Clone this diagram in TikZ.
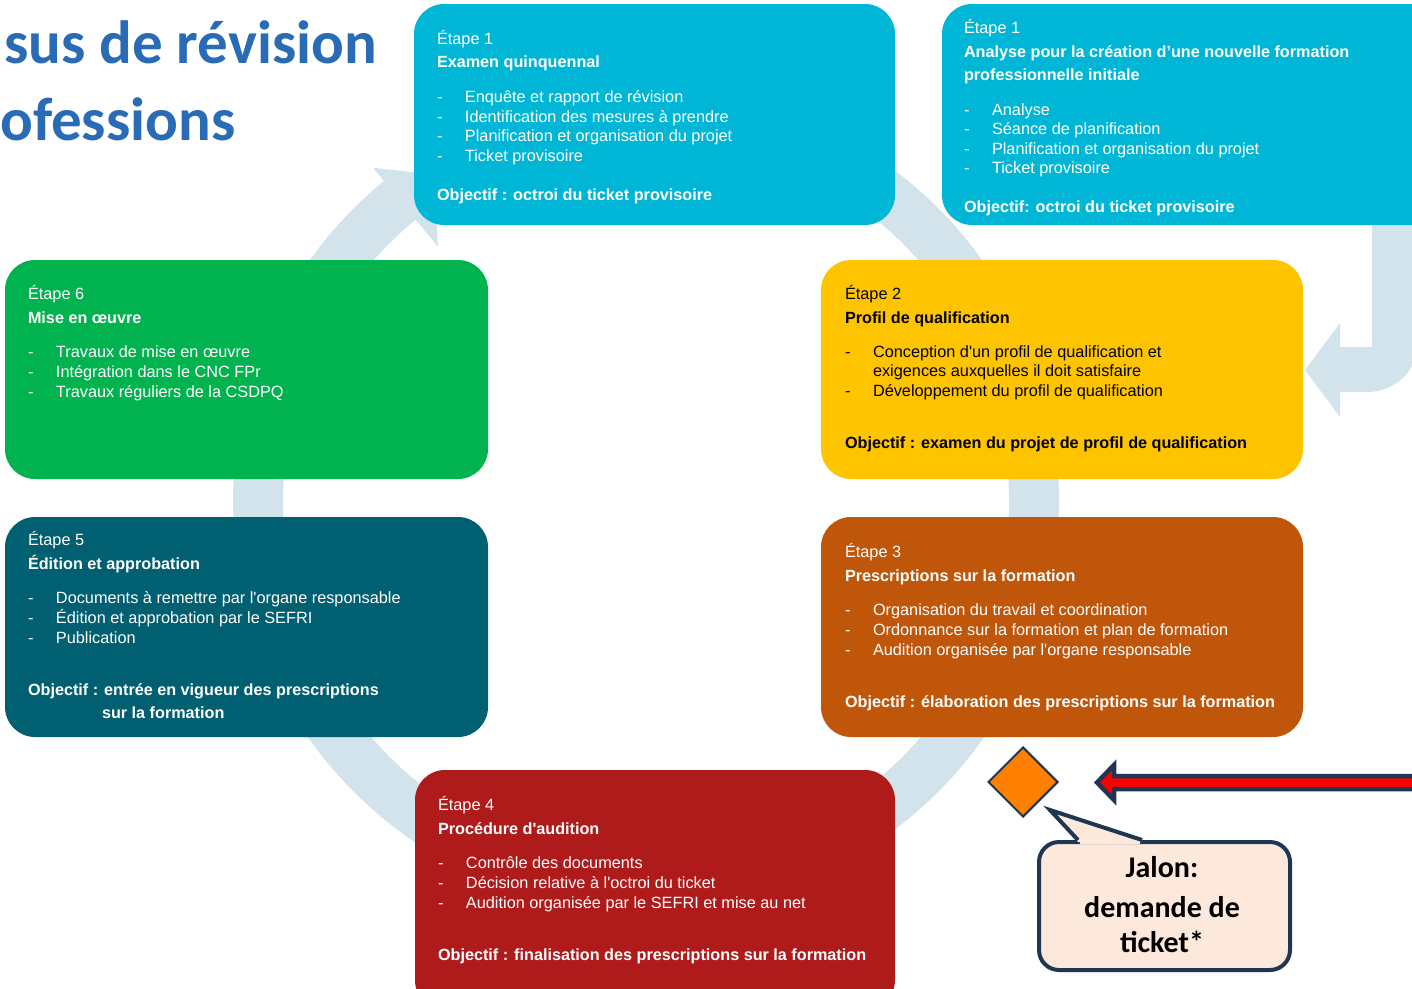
\documentclass[tikz,border=0pt]{standalone}
\usepackage{fontspec}
\setmainfont{Liberation Sans}[Ligatures=TeXOff]
\newfontfamily\calibri{Carlito}
\usetikzlibrary{shapes.geometric}

\definecolor{ringblue}{HTML}{D2E3EC}
\definecolor{stepcyan}{HTML}{00B6D7}
\definecolor{stepgreen}{HTML}{00B34F}
\definecolor{stepyellow}{HTML}{FFC400}
\definecolor{stepteal}{HTML}{005F71}
\definecolor{steporange}{HTML}{C0560A}
\definecolor{stepred}{HTML}{AF1B1B}
\definecolor{titleblue}{HTML}{2A6BB5}
\definecolor{navy}{HTML}{1E3553}
\definecolor{peach}{HTML}{FCE9DB}
\definecolor{jalonorange}{HTML}{FF7F00}
\definecolor{arrowred}{HTML}{FF0000}

\tikzset{
  stepbox/.style={anchor=north west, rounded corners=30pt, inner sep=0pt, outer sep=0pt},
  ln/.style={anchor=base west, inner sep=0pt, outer sep=0pt, text=white,
             font=\fontsize{16.3}{19}\selectfont},
  hd/.style={ln, font=\bfseries\fontsize{16.2}{19}\selectfont},
  dark/.style={text=black},
  jtxt/.style={anchor=base, inner sep=0pt, font=\calibri\bfseries\fontsize{30}{36}\selectfont},
  ttl/.style={inner sep=0pt, text=titleblue,
              font=\calibri\bfseries\fontsize{61}{64}\selectfont}
}
\newcommand{\bul}[1]{\makebox[28pt][l]{-}#1}

\begin{document}
\begin{tikzpicture}[x=1pt, y=-1pt]
\useasboundingbox (0,0) rectangle (1412,988);
\clip (0,0) rectangle (1412,988);

% cycle ring with its arrow head
\fill[ringblue]
  plot[domain=-110:230.6, samples=160] ({646+413*cos(\x)},{500+413*sin(\x)})
  -- plot[domain=230.6:-110, samples=160] ({646+363*cos(\x)},{500+363*sin(\x)})
  -- cycle;
\fill[ringblue]
  ({646+328*cos(230.6)},{500+328*sin(230.6)})
  -- ({646+430*cos(230.6)},{500+430*sin(230.6)})
  -- ({646+388*cos(237)},{500+388*sin(237)}) -- cycle;

% bent arrow from the new-profession branch into step 2
\fill[ringblue] (1372,200) -- (1372,347) -- (1340,347) -- (1340,323) -- (1305,370)
  -- (1340,417) -- (1340,392) -- (1367,392)
  .. controls (1396,392) and (1418,370) .. (1418,342) -- (1418,200) -- cycle;

% title
\node[ttl, anchor=base east] (title1) at (377,63) {sus de révision};
\node[ttl, anchor=base west] (title2) at (0,140) {ofessions};

% step boxes
\node[stepbox, fill=stepcyan, minimum width=481pt, minimum height=221pt] (s1) at (414,4) {};
\node[stepbox, fill=stepcyan, minimum width=500pt, minimum height=221pt] (s1n) at (942,4) {};
\node[stepbox, fill=stepgreen, minimum width=483pt, minimum height=219pt] (s6) at (5,260) {};
\node[stepbox, fill=stepyellow, minimum width=482pt, minimum height=219pt] (s2) at (821,260) {};
\node[stepbox, fill=stepteal, minimum width=483pt, minimum height=220pt] (s5) at (5,517) {};
\node[stepbox, fill=steporange, minimum width=482pt, minimum height=220pt] (s3) at (821,517) {};
\node[stepbox, fill=stepred, minimum width=480pt, minimum height=240pt] (s4) at (415,770) {};

% step 1: five-year review
\node[ln] (s1a) at (437,44) {Étape 1};
\node[hd] (s1b) at (437,67) {Examen quinquennal};
\node[ln] (s1c) at (437,102) {\bul{Enquête et rapport de révision}};
\node[ln] (s1d) at (437,122) {\bul{Identification des mesures à prendre}};
\node[ln] (s1e) at (437,141) {\bul{Planification et organisation du projet}};
\node[ln] (s1f) at (437,161) {\bul{Ticket provisoire}};
\node[hd] (s1g) at (437,200) {Objectif : octroi du ticket provisoire};

% step 1: new profession
\node[ln] (s1na) at (964,33) {Étape 1};
\node[hd] (s1nb) at (964,57) {Analyse pour la création d’une nouvelle formation};
\node[hd] (s1nc) at (964,80) {professionnelle initiale};
\node[ln] (s1nd) at (964,115) {\bul{Analyse}};
\node[ln] (s1ne) at (964,134) {\bul{Séance de planification}};
\node[ln] (s1nf) at (964,154) {\bul{Planification et organisation du projet}};
\node[ln] (s1ng) at (964,173) {\bul{Ticket provisoire}};
\node[hd] (s1nh) at (964,212) {Objectif: octroi du ticket provisoire};

% step 6
\node[ln] (s6a) at (28,299) {Étape 6};
\node[hd] (s6b) at (28,323) {Mise en œuvre};
\node[ln] (s6c) at (28,357) {\bul{Travaux de mise en œuvre}};
\node[ln] (s6d) at (28,377) {\bul{Intégration dans le CNC FPr}};
\node[ln] (s6e) at (28,397) {\bul{Travaux réguliers de la CSDPQ}};

% step 2
\node[ln, dark] (s2a) at (845,299) {Étape 2};
\node[hd, dark] (s2b) at (845,323) {Profil de qualification};
\node[ln, dark] (s2c) at (845,357) {\bul{Conception d'un profil de qualification et}};
\node[ln, dark] (s2d) at (873,376) {exigences auxquelles il doit satisfaire};
\node[ln, dark] (s2e) at (845,396) {\bul{Développement du profil de qualification}};
\node[hd, dark] (s2f) at (845,448) {Objectif : examen du projet de profil de qualification};

% step 5
\node[ln] (s5a) at (28,545) {Étape 5};
\node[hd] (s5b) at (28,569) {Édition et approbation};
\node[ln] (s5c) at (28,603) {\bul{Documents à remettre par l'organe responsable}};
\node[ln] (s5d) at (28,623) {\bul{Édition et approbation par le SEFRI}};
\node[ln] (s5e) at (28,643) {\bul{Publication}};
\node[hd] (s5f) at (28,695) {Objectif : entrée en vigueur des prescriptions};
\node[hd] (s5g) at (102,718) {sur la formation};

% step 3
\node[ln] (s3a) at (845,557) {Étape 3};
\node[hd] (s3b) at (845,581) {Prescriptions sur la formation};
\node[ln] (s3c) at (845,615) {\bul{Organisation du travail et coordination}};
\node[ln] (s3d) at (845,635) {\bul{Ordonnance sur la formation et plan de formation}};
\node[ln] (s3e) at (845,655) {\bul{Audition organisée par l'organe responsable}};
\node[hd] (s3f) at (845,707) {Objectif : élaboration des prescriptions sur la formation};

% step 4
\node[ln] (s4a) at (438,810) {Étape 4};
\node[hd] (s4b) at (438,834) {Procédure d'audition};
\node[ln] (s4c) at (438,868) {\bul{Contrôle des documents}};
\node[ln] (s4d) at (438,888) {\bul{Décision relative à l'octroi du ticket}};
\node[ln] (s4e) at (438,908) {\bul{Audition organisée par le SEFRI et mise au net}};
\node[hd] (s4f) at (438,960) {Objectif : finalisation des prescriptions sur la formation};

% milestone diamond
\node[diamond, draw=navy, line width=2pt, fill=jalonorange, minimum width=70pt,
      minimum height=70pt, inner sep=0pt] (jalon) at (1023,782) {};

% block arrow pointing at the milestone
\filldraw[fill=arrowred, draw=navy, line width=4.5pt, line join=miter]
  (1430,776) -- (1114,776) -- (1114,765) -- (1097,782.5) -- (1114,800)
  -- (1114,789) -- (1430,789) -- cycle;

% speech bubble
\node[draw=navy, line width=4pt, fill=peach, rounded corners=20pt, anchor=north west,
      minimum width=251pt, minimum height=128pt, inner sep=0pt] (bubble) at (1037,840) {};
\fill[peach] (1078,842) -- (1050,810) -- (1142,842) -- cycle;
\fill[peach] (1080,836) rectangle (1140,844);
\coordinate (ptip) at (1050,810);
\draw[navy, line width=4pt, line join=miter] (1078,840) -- (ptip) -- (1142,840);
\node[jtxt] (jt1) at (1162,877) {Jalon:};
\node[jtxt] (jt2) at (1162,917) {demande de};
\node[jtxt] (jt3) at (1162,952) {ticket*};
\end{tikzpicture}
\end{document}
